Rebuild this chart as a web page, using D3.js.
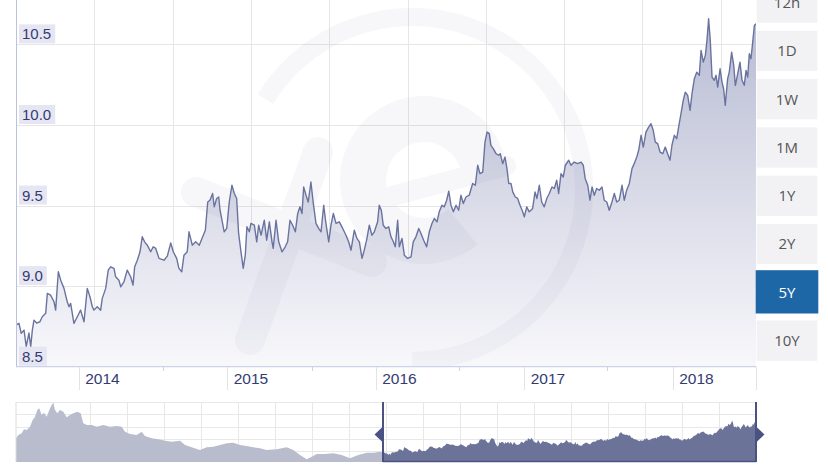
<!DOCTYPE html>
<html><head><meta charset="utf-8">
<script src="https://cdn.jsdelivr.net/npm/d3@7"></script>
<style>body{margin:0;background:#fff;overflow:hidden}svg{display:block}</style>
</head><body>
<svg id="c" width="828" height="468"></svg>
<script>
// ---- DATA (EUR/SEK style rate, decimal-year time, value) ----
const rateSeries = [
[2013.578,8.758],[2013.598,8.769],[2013.613,8.707],[2013.632,8.727],[2013.647,8.624],[2013.665,8.709],[2013.677,8.624],[2013.688,8.727],[2013.699,8.789],[2013.717,8.771],
[2013.739,8.779],[2013.755,8.810],[2013.778,8.831],[2013.789,8.955],[2013.811,8.944],[2013.834,8.903],[2013.845,8.851],[2013.863,9.089],[2013.879,9.037],[2013.901,8.986],
[2013.923,8.903],[2013.935,8.872],[2013.946,8.893],[2013.968,8.769],[2013.991,8.810],[2014.013,8.851],[2014.036,8.779],[2014.058,8.986],[2014.076,8.934],[2014.092,8.872],
[2014.103,8.851],[2014.125,8.872],[2014.148,8.851],[2014.159,8.924],[2014.182,8.986],[2014.199,9.099],[2014.215,9.120],[2014.238,9.110],[2014.249,9.058],[2014.271,9.037],
[2014.283,8.996],[2014.305,9.027],[2014.327,9.099],[2014.350,9.058],[2014.366,9.006],[2014.377,9.120],[2014.395,9.161],[2014.413,9.213],[2014.428,9.306],[2014.444,9.275],
[2014.462,9.254],[2014.485,9.213],[2014.502,9.244],[2014.519,9.234],[2014.541,9.172],[2014.574,9.161],[2014.597,9.186],[2014.620,9.268],[2014.637,9.213],[2014.660,9.172],
[2014.675,9.110],[2014.694,9.089],[2014.709,9.192],[2014.731,9.213],[2014.743,9.337],[2014.765,9.254],[2014.788,9.275],
[2014.812,9.254],[2014.835,9.306],[2014.853,9.347],[2014.869,9.522],[2014.884,9.533],[2014.902,9.575],[2014.913,9.492],[2014.929,9.544],[2014.943,9.553],[2014.952,9.471],[2014.965,9.409],[2014.980,9.337],[2014.997,9.358],
[2015.014,9.522],[2015.032,9.626],[2015.048,9.575],[2015.064,9.544],[2015.077,9.327],[2015.093,9.213],[2015.108,9.110],[2015.122,9.192],[2015.133,9.368],[2015.149,9.337],
[2015.160,9.389],[2015.183,9.378],[2015.199,9.275],[2015.212,9.378],[2015.228,9.316],[2015.250,9.409],[2015.266,9.285],[2015.284,9.399],[2015.302,9.275],[2015.310,9.234],
[2015.329,9.409],[2015.347,9.275],[2015.369,9.213],[2015.391,9.244],[2015.407,9.275],[2015.423,9.409],[2015.441,9.378],[2015.459,9.337],[2015.475,9.451],[2015.490,9.492],
[2015.504,9.451],[2015.515,9.615],[2015.531,9.564],[2015.546,9.522],[2015.564,9.646],[2015.580,9.513],[2015.598,9.389],[2015.616,9.358],[2015.632,9.337],[2015.650,9.502],
[2015.665,9.389],[2015.684,9.275],[2015.699,9.378],[2015.715,9.451],[2015.733,9.389],[2015.755,9.399],[2015.778,9.358],[2015.800,9.316],[2015.818,9.275],[2015.834,9.223],
[2015.856,9.347],[2015.874,9.296],[2015.890,9.275],[2015.908,9.172],[2015.923,9.223],[2015.939,9.285],[2015.957,9.378],[2015.975,9.316],[2015.991,9.337],
[2016.013,9.399],[2016.024,9.502],[2016.038,9.471],[2016.051,9.378],[2016.069,9.358],[2016.088,9.368],[2016.103,9.306],[2016.119,9.275],[2016.132,9.244],[2016.148,9.409],
[2016.159,9.244],[2016.177,9.296],[2016.193,9.192],[2016.215,9.172],[2016.238,9.182],[2016.253,9.275],[2016.271,9.306],[2016.290,9.358],[2016.305,9.327],[2016.323,9.285],
[2016.343,9.244],[2016.361,9.337],[2016.379,9.389],[2016.395,9.420],[2016.413,9.399],[2016.428,9.461],[2016.446,9.502],[2016.462,9.492],[2016.478,9.533],[2016.492,9.589],
[2016.507,9.502],[2016.523,9.461],[2016.541,9.502],[2016.559,9.471],[2016.574,9.564],[2016.590,9.513],[2016.608,9.553],[2016.630,9.564],[2016.653,9.637],[2016.671,9.626],
[2016.687,9.750],[2016.702,9.698],[2016.721,9.708],[2016.736,9.894],[2016.750,9.956],[2016.765,9.946],[2016.776,9.874],[2016.792,9.853],[2016.810,9.822],[2016.828,9.812],
[2016.839,9.822],[2016.855,9.760],[2016.871,9.801],[2016.884,9.729],[2016.896,9.637],[2016.911,9.637],[2016.923,9.585],[2016.940,9.553],[2016.956,9.544],[2016.972,9.502],[2016.990,9.461],
[2017.001,9.430],[2017.017,9.492],[2017.034,9.461],[2017.057,9.482],[2017.073,9.585],[2017.086,9.544],[2017.102,9.626],[2017.118,9.522],[2017.135,9.492],[2017.152,9.544],
[2017.169,9.575],[2017.187,9.615],[2017.203,9.606],[2017.219,9.657],[2017.232,9.575],[2017.248,9.698],[2017.263,9.677],[2017.277,9.750],[2017.300,9.781],[2017.315,9.750],
[2017.337,9.770],[2017.360,9.760],[2017.383,9.770],[2017.398,9.750],[2017.411,9.667],[2017.428,9.626],[2017.443,9.533],[2017.457,9.615],[2017.472,9.564],[2017.488,9.606],
[2017.506,9.595],[2017.524,9.615],[2017.539,9.533],[2017.556,9.522],[2017.573,9.471],[2017.591,9.522],[2017.607,9.575],[2017.623,9.522],[2017.640,9.533],[2017.659,9.626],
[2017.674,9.533],[2017.690,9.595],[2017.708,9.637],[2017.726,9.729],[2017.741,9.760],[2017.758,9.801],[2017.771,9.843],[2017.787,9.936],[2017.802,9.863],[2017.820,9.956],
[2017.838,9.987],[2017.854,10.008],[2017.869,9.967],[2017.883,9.894],[2017.899,9.884],[2017.915,9.832],[2017.933,9.822],[2017.950,9.863],[2017.966,9.822],[2017.982,9.781],[2017.995,9.874],
[2018.011,9.936],[2018.027,9.915],[2018.044,10.008],[2018.056,10.070],[2018.071,10.153],[2018.085,10.204],[2018.101,10.184],[2018.117,10.091],[2018.130,10.194],[2018.146,10.287],
[2018.162,10.328],[2018.179,10.308],[2018.191,10.463],[2018.206,10.390],[2018.220,10.432],[2018.231,10.525],[2018.242,10.659],[2018.253,10.525],[2018.265,10.297],[2018.280,10.277],
[2018.292,10.308],[2018.303,10.235],[2018.319,10.349],[2018.332,10.266],[2018.343,10.225],[2018.354,10.122],[2018.370,10.287],[2018.381,10.328],[2018.397,10.452],[2018.411,10.370],
[2018.422,10.246],[2018.438,10.318],[2018.453,10.390],[2018.467,10.277],[2018.482,10.246],[2018.494,10.339],[2018.505,10.297],[2018.516,10.442],[2018.527,10.411],[2018.539,10.514],
[2018.550,10.618],[2018.561,10.628]
];
// older history shown only in the navigator
const historySeries = [
[2008.675,9.608],[2008.706,9.803],[2008.751,9.903],[2008.782,10.139],[2008.818,10.098],[2008.862,10.293],[2008.898,10.688],[2008.929,10.883],[2008.960,11.278],[2008.986,11.378],
[2009.018,10.983],[2009.049,11.119],[2009.085,10.883],[2009.120,11.278],[2009.152,11.573],[2009.173,11.709],[2009.196,11.278],[2009.227,11.083],[2009.263,11.278],[2009.307,11.178],
[2009.352,10.847],[2009.396,10.983],[2009.441,11.083],[2009.494,11.178],[2009.539,11.083],[2009.574,10.493],[2009.620,10.393],[2009.686,10.393],[2009.753,10.293],[2009.841,10.393],
[2009.931,10.293],[2010.020,10.334],[2010.087,10.293],[2010.131,9.998],[2010.198,9.862],[2010.288,9.803],[2010.354,9.998],[2010.398,9.744],[2010.488,9.608],[2010.576,9.549],
[2010.666,9.467],[2010.755,9.408],[2010.866,9.467],[2010.933,9.213],[2011.022,9.077],[2011.133,8.918],[2011.223,9.077],[2011.311,9.113],[2011.401,9.213],[2011.490,9.313],
[2011.578,9.349],[2011.668,9.213],[2011.757,9.154],[2011.845,9.077],[2011.935,9.018],[2012.024,8.918],[2012.158,8.959],[2012.292,9.077],[2012.380,8.918],[2012.469,8.623],
[2012.559,8.369],[2012.626,8.523],[2012.692,8.682],[2012.803,8.682],[2012.914,8.723],[2013.026,8.623],[2013.137,8.428],[2013.248,8.623],[2013.360,8.759],[2013.449,8.759],[2013.538,8.818]
];
const yLabelValues = [8.5, 9.0, 9.5, 10.0, 10.5];
const yearTicks = [2014, 2015, 2016, 2017, 2018];
const anniversaryTicks = [2014.568, 2015.569, 2016.563, 2017.560, 2018.561];
const viewDomain = [2013.578, 2018.561];
const fullDomain = [2008.675, 2018.561];
const rangeButtons = ["12h", "1D", "1W", "1M", "1Y", "2Y", "5Y", "10Y"];
const activeButton = "5Y";

// ---- LAYOUT ----
const svg = d3.select("#c");
const X0 = 16, X1 = 756, YB = 366.7;
const x = d3.scaleLinear().domain(viewDomain).range([X0, X1]);
const y = d3.scaleLinear().domain([8.5, 10.5]).range([YB, 44.4]);
const labelFont = "'Liberation Sans', Arial, sans-serif";
const labelColor = "#343b72";

const defs = svg.append("defs");
const grad = defs.append("linearGradient").attr("id", "ag")
  .attr("gradientUnits", "userSpaceOnUse").attr("x1", 0).attr("y1", 0).attr("x2", 0).attr("y2", YB);
grad.append("stop").attr("offset", 0).attr("stop-color", "#b5b9d1");
grad.append("stop").attr("offset", 1).attr("stop-color", "#f8f8fb");
defs.append("clipPath").attr("id", "pc").append("rect")
  .attr("x", X0).attr("y", 0).attr("width", X1 - X0).attr("height", YB);

// grid
const grid = svg.append("g").attr("stroke", "#e6e6e6").attr("stroke-width", 1);
grid.selectAll(".hg").data(yLabelValues.slice(1)).join("line")
  .attr("x1", X0).attr("x2", X1).attr("y1", d => Math.round(y(d)) + 0.5).attr("y2", d => Math.round(y(d)) + 0.5);
grid.selectAll(".vg").data(d3.range(1, 10)).join("line")
  .attr("x1", k => Math.round(X0 + k * 78.3) + 0.5).attr("x2", k => Math.round(X0 + k * 78.3) + 0.5)
  .attr("y1", 0).attr("y2", YB);

// area + watermark + line
const plot = svg.append("g").attr("clip-path", "url(#pc)");
plot.append("path").datum(rateSeries).attr("fill", "url(#ag)")
  .attr("d", d3.area().x(d => x(d[0])).y0(YB).y1(d => y(d[1])));

const wm = plot.append("g").attr("opacity", 0.038).attr("fill", "#474c86");
wm.append("path").attr("transform", "translate(412,189)")
  .attr("d", d3.arc()({innerRadius: 163, outerRadius: 181, startAngle: -1.02, endAngle: Math.PI}));
wm.append("path").attr("transform", "translate(424,180)")
  .attr("d", d3.arc()({innerRadius: 38, outerRadius: 84, startAngle: 2.45, endAngle: 2 * Math.PI + 1.45}));
wm.append("line").attr("x1", 392).attr("y1", 196).attr("x2", 506).attr("y2", 166)
  .attr("stroke", "#474c86").attr("stroke-width", 20).attr("stroke-linecap", "round");
wm.append("line").attr("x1", 196).attr("y1", 192).attr("x2", 372).attr("y2", 262)
  .attr("stroke", "#474c86").attr("stroke-width", 30).attr("stroke-linecap", "round");
wm.append("line").attr("x1", 318).attr("y1", 152).attr("x2", 250).attr("y2", 340)
  .attr("stroke", "#474c86").attr("stroke-width", 30).attr("stroke-linecap", "round");

plot.append("path").datum(rateSeries).attr("fill", "none")
  .attr("stroke", "#6a739f").attr("stroke-width", 1.4).attr("stroke-linejoin", "round")
  .attr("d", d3.line().x(d => x(d[0])).y(d => y(d[1])));

// axes lines
svg.append("line").attr("x1", X0 + 0.5).attr("x2", X0 + 0.5).attr("y1", 0).attr("y2", YB + 0.5)
  .attr("stroke", "#bcc1dd").attr("stroke-width", 1);
svg.append("line").attr("x1", X0).attr("x2", X1).attr("y1", YB).attr("y2", YB)
  .attr("stroke", "#ccd2ea").attr("stroke-width", 1.2);

// x ticks + labels
svg.selectAll(".yt").data(yearTicks).join("line")
  .attr("x1", d => Math.round(x(d)) + 0.5).attr("x2", d => Math.round(x(d)) + 0.5)
  .attr("y1", YB).attr("y2", 390).attr("stroke", "#e3e3e3");
svg.selectAll(".at").data(anniversaryTicks).join("line")
  .attr("x1", d => Math.round(x(d)) + 0.5).attr("x2", d => Math.round(x(d)) + 0.5)
  .attr("y1", YB).attr("y2", d => d === viewDomain[1] ? 390 : 371).attr("stroke", d => d === viewDomain[1] ? "#e3e3e3" : "#ccd2ea");
svg.selectAll(".yl").data(yearTicks).join("text")
  .attr("x", d => x(d) + 6.5).attr("y", 384)
  .attr("font-family", labelFont).attr("font-size", 15.5).attr("fill", labelColor)
  .text(d => d);

// y labels with boxes
const yl = svg.append("g");
yLabelValues.forEach(v => {
  const g = yl.append("g");
  const r = g.append("rect").attr("fill", "#e5e6f2");
  const t = g.append("text").attr("x", 22).attr("y", y(v) - 5)
    .attr("font-family", labelFont).attr("font-size", 15).attr("fill", labelColor)
    .text(d3.format(".1f")(v));
  const w = t.node().getComputedTextLength();
  r.attr("x", 19).attr("y", y(v) - 20).attr("width", w + 7).attr("height", 19);
});

// range buttons
const btn = svg.append("g");
rangeButtons.forEach((b, i) => {
  const top = -17.6 + i * 48.3;
  const active = b === activeButton;
  btn.append("rect").attr("x", active ? 755.7 : 756.7).attr("y", active ? top - 2 : top)
    .attr("width", active ? 62.6 : 60.6).attr("height", active ? 43.3 : 40.3)
    .attr("fill", active ? "#1e67a6" : "#f2f2f5");
  btn.append("text").attr("x", 787).attr("y", top + 20.15).attr("dy", "0.36em")
    .attr("text-anchor", "middle").attr("font-family", "'Open Sans', sans-serif")
    .attr("font-size", 15).attr("fill", active ? "#ffffff" : "#555555").text(b);
});

// ---- NAVIGATOR ----
const NT = 402, NB = 462;
const xn = d3.scaleLinear().domain(fullDomain).range([X0, X1]);
const yn = d3.scaleLinear().domain([8.21, 11.75]).range([NB, NT]);
const navData = historySeries.concat(rateSeries);
const ng = svg.append("g").attr("stroke", "#e8e8e8").attr("stroke-width", 1);
ng.selectAll(".nh").data(d3.range(0, 5)).join("line")
  .attr("x1", X0).attr("x2", X1).attr("y1", i => Math.round(NT + i * 12.3) + 0.5).attr("y2", i => Math.round(NT + i * 12.3) + 0.5);
ng.selectAll(".nv").data(d3.range(1, 20)).join("line")
  .attr("x1", k => Math.round(X0 + k * 37) + 0.5).attr("x2", k => Math.round(X0 + k * 37) + 0.5)
  .attr("y1", NT).attr("y2", NB);
const sx0 = xn(viewDomain[0]), sx1 = xn(viewDomain[1]);
defs.append("clipPath").attr("id", "nl").append("rect").attr("x", X0).attr("y", NT).attr("width", sx0 - X0).attr("height", NB - NT);
defs.append("clipPath").attr("id", "nr").append("rect").attr("x", sx0).attr("y", NT).attr("width", sx1 - sx0).attr("height", NB - NT);
const navArea = d3.area().x(d => xn(d[0])).y0(NB).y1(d => yn(d[1]));
svg.append("path").datum(navData).attr("clip-path", "url(#nl)").attr("fill", "#b9bccd").attr("d", navArea);
svg.append("path").datum(navData).attr("clip-path", "url(#nr)").attr("fill", "#6b7399").attr("d", navArea);
svg.append("line").attr("x1", X0).attr("x2", X0).attr("y1", NT).attr("y2", NB).attr("stroke", "#dcdcdc");
// selection outline and handles
const hc = "#4b5283";
svg.append("line").attr("x1", sx0).attr("x2", sx1).attr("y1", NB - 0.5).attr("y2", NB - 0.5).attr("stroke", hc).attr("stroke-width", 1.5);
[sx0, sx1].forEach((hx, i) => {
  svg.append("line").attr("x1", hx).attr("x2", hx).attr("y1", NT).attr("y2", NB).attr("stroke", hc).attr("stroke-width", 2);
  const dir = i === 0 ? -1 : 1;
  svg.append("path").attr("fill", hc)
    .attr("d", `M${hx},426.5 L${hx + dir * 8.5},434.5 L${hx},442.5 Z`);
});
</script>
</body></html>
